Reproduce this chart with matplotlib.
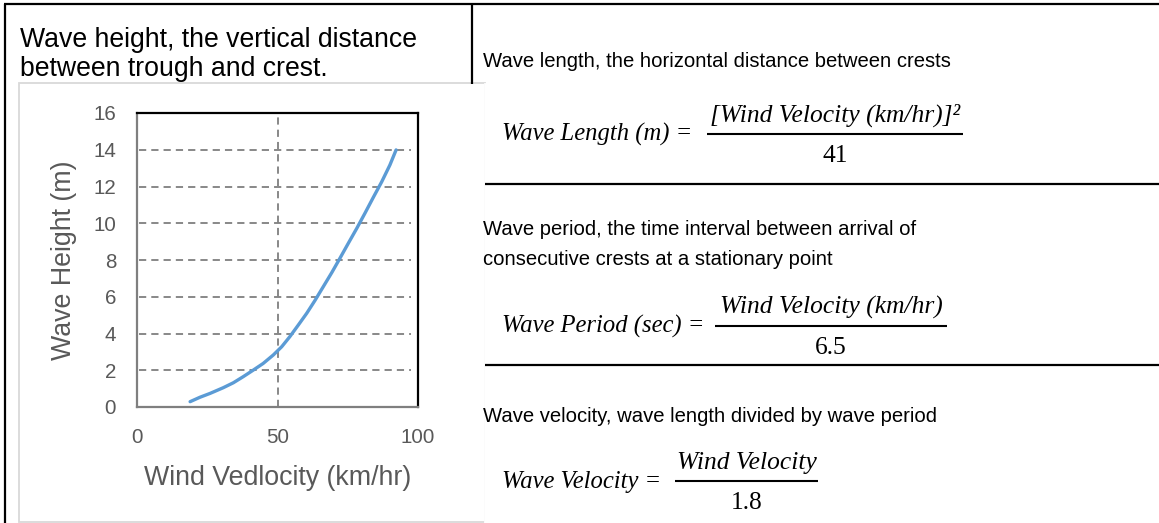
import matplotlib
matplotlib.use("Agg")
import matplotlib.pyplot as plt
from matplotlib.lines import Line2D
from matplotlib.patches import Rectangle

# ---- data ----
wind_velocity = [18.9, 22.4, 26.0, 30.7, 34.3, 37.8, 41.4, 44.9, 48.5, 51.5,
                 54.4, 57.4, 60.4, 63.3, 66.3, 69.3, 72.2, 75.2, 78.2, 81.1,
                 84.1, 87.1, 90.0, 92.2]
wave_height = [0.29, 0.53, 0.74, 1.05, 1.32, 1.65, 2.01, 2.37, 2.83, 3.28,
               3.83, 4.46, 5.10, 5.79, 6.55, 7.31, 8.09, 8.91, 9.72, 10.54,
               11.41, 12.26, 13.17, 13.99]
y_ticks = [0, 2, 4, 6, 8, 10, 12, 14, 16]
x_ticks = [0, 50, 100]
grid_y = [2, 4, 6, 8, 10, 12, 14]
grid_x = [50]

W, H = 1159, 523
fig = plt.figure(figsize=(W / 100, H / 100), dpi=100)
fig.patch.set_facecolor("white")


def fx(px):
    return px / W


def fy(py):
    return 1 - py / H


def hline(x0, x1, y, color="black", lw=1.6):
    fig.add_artist(Line2D([fx(x0), fx(x1)], [fy(y), fy(y)], color=color, lw=lw,
                          transform=fig.transFigure, solid_capstyle="butt"))


def vline(x, y0, y1, color="black", lw=1.6):
    fig.add_artist(Line2D([fx(x), fx(x)], [fy(y0), fy(y1)], color=color, lw=lw,
                          transform=fig.transFigure, solid_capstyle="butt"))


# ---- outer table lines ----
hline(4, W, 4)
vline(5, 4, H)
vline(472, 4, 84)
hline(485, W, 184)
hline(485, W, 365)

# ---- chart panel ----
panel = Rectangle((fx(19), fy(522)), fx(485) - fx(19), fy(83) - fy(522),
                  transform=fig.transFigure, facecolor="white",
                  edgecolor="#D9D9D9", lw=1.3, zorder=1)
fig.add_artist(panel)
# the reference panel has no visible right edge
fig.add_artist(Line2D([fx(485), fx(485)], [fy(522.5), fy(83.5)], color="white",
                      lw=2, transform=fig.transFigure, zorder=1.5))

SANS = ["Liberation Sans", "DejaVu Sans"]
SERIF = ["Liberation Serif", "DejaVu Serif"]

# left description
fig.text(fx(20), fy(47), "Wave height, the vertical distance", family=SANS,
         fontsize=19.2, color="black", va="baseline", ha="left")
fig.text(fx(20), fy(75.5), "between trough and crest.", family=SANS,
         fontsize=19.2, color="black", va="baseline", ha="left")

# ---- axes ----
ax = fig.add_axes([fx(137), fy(407), fx(418) - fx(137), fy(113) - fy(407)])
ax.set_zorder(3)
ax.set_facecolor("none")
ax.set_xlim(0, 100)
ax.set_ylim(0, 16)
ax.set_xticks(x_ticks)
ax.set_yticks(y_ticks)
ax.tick_params(axis="both", length=0, labelsize=14.8, labelcolor="#595959")
ax.tick_params(axis="y", pad=15)
ax.tick_params(axis="x", pad=15)
for lab in ax.get_xticklabels() + ax.get_yticklabels():
    lab.set_family(SANS)
for s in ["top", "right"]:
    ax.spines[s].set_color("black")
    ax.spines[s].set_linewidth(1.6)
for s in ["left", "bottom"]:
    ax.spines[s].set_color("#7F7F7F")
    ax.spines[s].set_linewidth(1.6)

ax.hlines(grid_y, 0.8, 97.5, colors="#7F7F7F", lw=1.3, linestyles=(0, (4, 2.8)), zorder=1)
ax.vlines(grid_x, 0, 16, colors="#7F7F7F", lw=1.3, linestyles=(0, (4, 2.8)), zorder=1)

ax.plot(wind_velocity, wave_height, color="#5B9BD5", lw=2.4, zorder=3,
        solid_capstyle="round", solid_joinstyle="round")

ax.set_xlabel("Wind Vedlocity (km/hr)", family=SANS, fontsize=19.3, color="#595959",
              labelpad=13)
ax.set_ylabel("Wave Height (m)", family=SANS, fontsize=19.3, color="#595959",
              labelpad=12)

# ---- right side descriptions ----
DESC = 14.6
fig.text(fx(483), fy(67), "Wave length, the horizontal distance between crests",
         family=SANS, fontsize=DESC, va="baseline")
fig.text(fx(483), fy(235), "Wave period, the time interval between arrival of",
         family=SANS, fontsize=DESC, va="baseline")
fig.text(fx(483), fy(265), "consecutive crests at a stationary point",
         family=SANS, fontsize=DESC, va="baseline")
fig.text(fx(483), fy(422), "Wave velocity, wave length divided by wave period",
         family=SANS, fontsize=DESC, va="baseline")

EQ = 18.4
EQ_LHS = 17.7


def formula(lhs, num, den, bar_x0, bar_x1, bar_y):
    fig.text(fx(502), fy(bar_y + 7), lhs, family=SERIF, style="italic",
             fontsize=EQ_LHS, va="baseline", ha="left")
    cx = (bar_x0 + bar_x1) / 2
    fig.text(fx(cx), fy(bar_y - 12), num, family=SERIF, style="italic",
             fontsize=EQ, va="baseline", ha="center")
    fig.text(fx(cx), fy(bar_y + 28), den, family=SERIF, fontsize=EQ,
             va="baseline", ha="center")
    hline(bar_x0, bar_x1, bar_y, lw=1.5)


formula("Wave Length (m) =", "[Wind Velocity (km/hr)]\u00b2", "41", 707, 963, 134)
formula("Wave Period (sec) =", "Wind Velocity (km/hr)", "6.5", 715, 947, 326)
formula("Wave Velocity =", "Wind Velocity", "1.8", 675, 818, 481)

fig.savefig("out.png", dpi=100, facecolor="white")
